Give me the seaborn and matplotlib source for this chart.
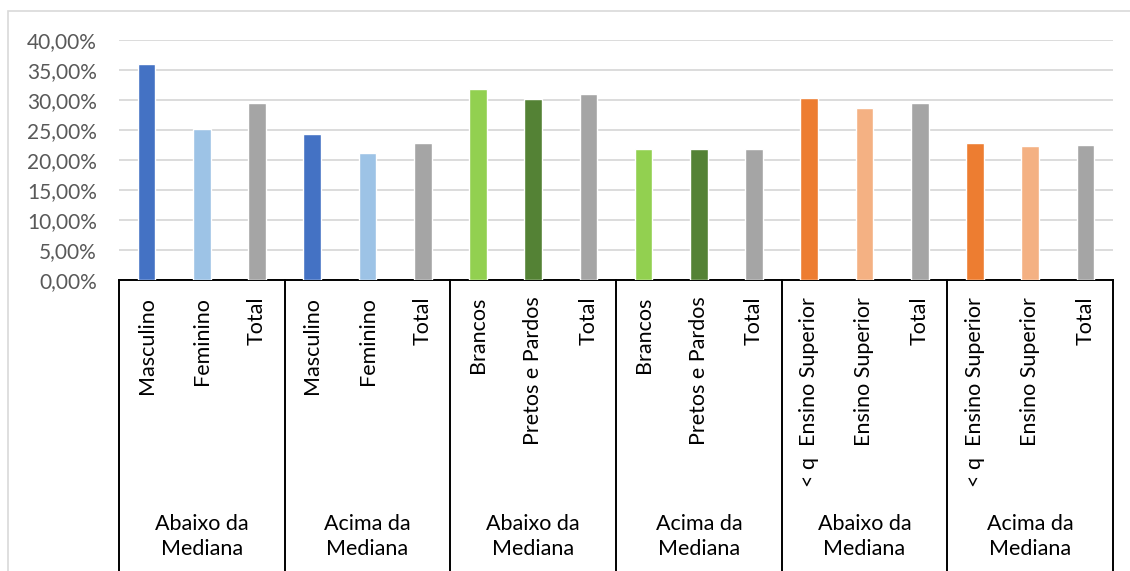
import pandas as pd
import matplotlib
matplotlib.use("Agg")
import matplotlib.pyplot as plt
import matplotlib.transforms as mtransforms
from matplotlib.patches import Rectangle
from matplotlib.ticker import FuncFormatter
import seaborn as sns

# =====================================================
# DATA
# =====================================================
categories = [
    "Masculino", "Feminino", "Total",
    "Masculino", "Feminino", "Total",
    "Brancos", "Pretos e Pardos", "Total",
    "Brancos", "Pretos e Pardos", "Total",
    "< q  Ensino Superior", "Ensino Superior", "Total",
    "< q  Ensino Superior", "Ensino Superior", "Total",
]
values = [
    36.0, 25.2, 29.5,
    24.3, 21.2, 22.9,
    31.9, 30.2, 31.0,
    21.9, 21.9, 21.9,
    30.4, 28.7, 29.5,
    22.9, 22.4, 22.5,
]
group_labels = [
    "Abaixo da\nMediana", "Acima da\nMediana",
    "Abaixo da\nMediana", "Acima da\nMediana",
    "Abaixo da\nMediana", "Acima da\nMediana",
]
bar_colors = [
    "#4472C4", "#9DC3E6", "#A5A5A5",
    "#4472C4", "#9DC3E6", "#A5A5A5",
    "#92D050", "#548235", "#A5A5A5",
    "#92D050", "#548235", "#A5A5A5",
    "#ED7D31", "#F4B183", "#A5A5A5",
    "#ED7D31", "#F4B183", "#A5A5A5",
]

df = pd.DataFrame({
    "slot": [str(i) for i in range(len(values))],
    "value": values,
})

# =====================================================
# STYLE
# =====================================================
sns.set_theme(style="white")
plt.rcParams["font.family"] = ["Lato", "DejaVu Sans"]

fig = plt.figure(figsize=(11.3, 5.71), dpi=100)
W, H = 1130, 571
ax = fig.add_axes([119 / W, (H - 280) / H, (1113 - 119) / W, 240 / H])

# =====================================================
# BARS
# =====================================================
sns.barplot(
    data=df, x="slot", y="value", hue="slot",
    palette=bar_colors, legend=False, width=0.32,
    saturation=1, ax=ax, zorder=3
)

ax.set_xlim(-0.5, len(values) - 0.5)
ax.set_ylim(0, 40)
ax.set_yticks(range(0, 41, 5))
ax.yaxis.set_major_formatter(
    FuncFormatter(lambda v, p: f"{v:.2f}%".replace(".", ","))
)
ax.yaxis.grid(True, color="#d9d9d9", linewidth=1.3)
ax.set_axisbelow(True)
ax.tick_params(axis="y", length=0, pad=16, labelsize=15, labelcolor="#595959")

ax.set_xticks(range(len(categories)))
ax.set_xticklabels(categories, rotation=90, va="top", ha="center")
ax.tick_params(axis="x", length=0, pad=12, labelsize=15.5, labelcolor="black")
ax.set_xlabel("")
ax.set_ylabel("")

for side in ["left", "top", "right"]:
    ax.spines[side].set_visible(False)
ax.spines["bottom"].set_color("black")
ax.spines["bottom"].set_linewidth(1.4)

# =====================================================
# GROUP SEPARATORS + GROUP LABELS
# =====================================================
trans = mtransforms.blended_transform_factory(ax.transData, ax.transAxes)
for i in range(len(group_labels) + 1):
    b = i * 3 - 0.5
    ax.plot([b, b], [0, -1.3], transform=trans, color="black",
            linewidth=1.4, clip_on=False)

for i, lab in enumerate(group_labels):
    ax.text(i * 3 + 1, -1.07, lab, transform=trans, ha="center",
            va="center", fontsize=15.5, linespacing=1.3, color="black")

# chart border
fig.add_artist(Rectangle((8 / W, -0.1), 2, (H - 11) / H + 0.1,
                         transform=fig.transFigure, fill=False,
                         edgecolor="#d9d9d9", linewidth=1.2))

plt.savefig("out.png", dpi=100)
plt.close()
